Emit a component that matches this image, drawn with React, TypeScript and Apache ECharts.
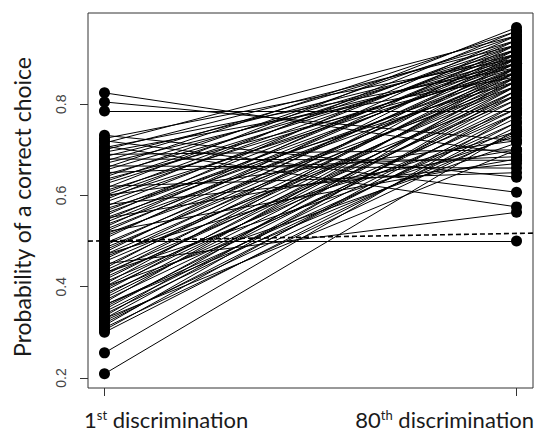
import React, { useEffect, useRef } from "react";
import * as echarts from "echarts";

// Probability of a correct choice at the 1st and 80th discrimination (one pair per individual)
const firstDisc: number[] = [
  0.209, 0.255, 0.825, 0.805, 0.785, 0.732, 0.72, 0.708, 0.69, 0.68, 0.665, 0.65,
  0.62, 0.58, 0.5, 0.45, 0.55, 0.6, 0.52, 0.4, 0.36, 0.33, 0.47, 0.43,
  0.3, 0.305, 0.31, 0.315, 0.32, 0.325, 0.33, 0.335, 0.34, 0.345, 0.35, 0.355,
  0.36, 0.365, 0.37, 0.375, 0.38, 0.385, 0.39, 0.395, 0.4, 0.405, 0.41, 0.415,
  0.42, 0.425, 0.43, 0.435, 0.44, 0.445, 0.455, 0.46, 0.465, 0.47, 0.475, 0.48,
  0.485, 0.49, 0.495, 0.505, 0.51, 0.515, 0.52, 0.525, 0.53, 0.535, 0.54, 0.545,
  0.55, 0.555, 0.56, 0.565, 0.57, 0.575, 0.585, 0.59, 0.595, 0.6, 0.605, 0.61,
  0.615, 0.625, 0.63, 0.635, 0.64, 0.645, 0.655, 0.66, 0.67, 0.675, 0.685, 0.695,
  0.7, 0.705, 0.715, 0.725,
];
const eightiethDisc: number[] = [
  0.745, 0.78, 0.69, 0.72, 0.785, 0.64, 0.607, 0.575, 0.7, 0.677, 0.66, 0.685,
  0.65, 0.67, 0.5, 0.563, 0.7, 0.72, 0.68, 0.715, 0.735, 0.7, 0.74, 0.73,
  0.76, 0.8, 0.74, 0.83, 0.78, 0.75, 0.82, 0.86, 0.77, 0.79, 0.84, 0.81,
  0.76, 0.88, 0.8, 0.83, 0.85, 0.78, 0.87, 0.82, 0.84, 0.9, 0.79, 0.86,
  0.83, 0.88, 0.81, 0.85, 0.91, 0.87, 0.84, 0.89, 0.82, 0.86, 0.92, 0.88,
  0.85, 0.9, 0.87, 0.93, 0.89, 0.84, 0.91, 0.88, 0.94, 0.86, 0.9, 0.92,
  0.87, 0.95, 0.89, 0.91, 0.85, 0.93, 0.9, 0.96, 0.88, 0.92, 0.94, 0.89,
  0.968, 0.91, 0.93, 0.87, 0.95, 0.9, 0.92, 0.96, 0.89, 0.94, 0.91, 0.86,
  0.93, 0.88, 0.95, 0.9,
];
const xPositions: number[] = [1, 2];
const yTicks: number[] = [0.2, 0.4, 0.6, 0.8];
const chanceLine: [number, number][] = [
  [0.96, 0.5],
  [2.04, 0.5175],
];

export default function App() {
  const ref = useRef<HTMLDivElement>(null);
  useEffect(() => {
    document.body.style.margin = "0";
    if (!ref.current) return;
    const chart = echarts.init(ref.current, undefined, { renderer: "svg" });
    const segs = firstDisc.map((v, i) => ({
      coords: [
        [xPositions[0], v],
        [xPositions[1], eightiethDisc[i]],
      ],
    }));
    const pts: [number, number][] = [];
    firstDisc.forEach((v) => pts.push([xPositions[0], v]));
    eightiethDisc.forEach((v) => pts.push([xPositions[1], v]));
    const labelFont = "Lato, 'Open Sans', sans-serif";
    const rich = {
      n: { fontSize: 22, fontFamily: labelFont, fill: "#1a1a1a", color: "#1a1a1a", lineHeight: 26 },
      s: { fontSize: 13, fontFamily: labelFont, fill: "#1a1a1a", color: "#1a1a1a", padding: [0, 0, 10, 0], lineHeight: 26 },
    };
    chart.setOption({
      animation: false,
      grid: {
        left: 88,
        top: 13,
        right: 7,
        bottom: 45,
        show: true,
        borderColor: "#333",
        borderWidth: 1,
        backgroundColor: "transparent",
      },
      xAxis: {
        type: "value",
        min: 0.96,
        max: 2.04,
        axisLine: { show: false },
        splitLine: { show: false },
        axisTick: {
          show: true,
          customValues: xPositions,
          length: 8,
          lineStyle: { color: "#333", width: 1 },
        },
        axisLabel: { show: false, customValues: xPositions },
      },
      yAxis: {
        type: "value",
        min: 0.178,
        max: 1.0,
        axisLine: { show: false },
        splitLine: { show: false },
        axisTick: {
          show: true,
          customValues: yTicks,
          length: 8,
          lineStyle: { color: "#333", width: 1 },
        },
        axisLabel: {
          customValues: yTicks,
          rotate: 90,
          margin: 20,
          fontSize: 14,
          color: "#444",
          fontFamily: "'Liberation Sans', Arial, sans-serif",
          formatter: (v: number) => v.toFixed(1),
        },
      },
      series: [
        {
          type: "lines",
          coordinateSystem: "cartesian2d",
          data: segs,
          lineStyle: { color: "#000", width: 1, opacity: 1 },
          z: 2,
        },
        {
          type: "line",
          data: chanceLine,
          symbol: "none",
          lineStyle: { color: "#000", width: 1.6, type: [5, 3] },
          z: 3,
        },
        {
          type: "scatter",
          data: pts,
          symbol: "circle",
          symbolSize: 11,
          itemStyle: { color: "#000", opacity: 1 },
          z: 4,
        },
      ],
      graphic: [
        {
          type: "text",
          x: 22,
          y: 207,
          rotation: Math.PI / 2,
          style: {
            text: "Probability of a correct choice",
            font: `23px ${labelFont}`,
            fill: "#1a1a1a",
            align: "center",
            verticalAlign: "middle",
          },
        },
        {
          type: "text",
          left: 84,
          top: 408,
          style: { text: "{n|1}{s|st}{n| discrimination}", fill: "#1a1a1a", rich },
        },
        {
          type: "text",
          right: 6,
          top: 408,
          style: { text: "{n|80}{s|th}{n| discrimination}", fill: "#1a1a1a", rich },
        },
      ],
    });
    return () => chart.dispose();
  }, []);
  return <div ref={ref} style={{ width: 540, height: 433 }} />;
}
